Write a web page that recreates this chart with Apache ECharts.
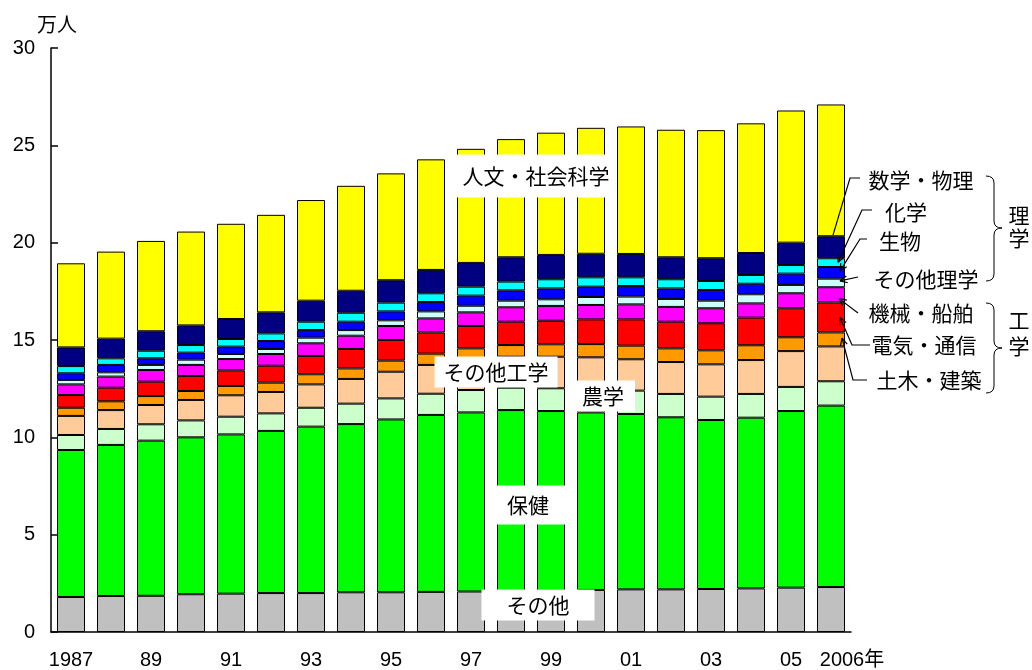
<!DOCTYPE html>
<html><head><meta charset="utf-8">
<script src="https://cdn.jsdelivr.net/npm/echarts@6/dist/echarts.min.js"></script>
<style>html,body{margin:0;padding:0;background:#fff}#c{width:1032px;height:670px}</style>
</head><body><div id="c"></div>
<script>
// ---- data (万人) ----
const years = ['1987','1988','1989','1990','1991','1992','1993','1994','1995','1996','1997','1998','1999','2000','2001','2002','2003','2004','2005','2006'];
const xTickLabels = ['1987','','89','','91','','93','','95','','97','','99','','01','','03','','05','2006年'];
const yTicks = [0, 5, 10, 15, 20, 25, 30];

const sonota      = [1.80,1.85,1.86,1.94,1.97,2.00,2.00,2.04,2.04,2.06,2.08,2.10,2.12,2.16,2.19,2.19,2.21,2.24,2.28,2.31];
const hoken       = [7.55,7.76,7.97,8.06,8.18,8.33,8.55,8.64,8.88,9.09,9.20,9.30,9.23,9.12,9.01,8.84,8.68,8.77,9.07,9.32];
const nogaku      = [0.77,0.82,0.84,0.87,0.91,0.90,0.97,1.05,1.08,1.09,1.15,1.15,1.17,1.22,1.20,1.20,1.20,1.22,1.24,1.25];
const sonotaKogaku= [0.98,0.97,0.99,1.05,1.10,1.10,1.20,1.27,1.37,1.48,1.54,1.59,1.62,1.61,1.61,1.64,1.66,1.74,1.84,1.79];
const dobokuKenchiku = [0.42,0.45,0.46,0.46,0.48,0.48,0.52,0.54,0.57,0.58,0.60,0.60,0.64,0.68,0.70,0.70,0.72,0.76,0.71,0.72];
const denkiTsushin = [0.65,0.70,0.74,0.77,0.80,0.87,0.94,1.00,1.06,1.09,1.15,1.20,1.21,1.27,1.35,1.37,1.39,1.42,1.49,1.54];
const kikaiSenpaku = [0.55,0.57,0.60,0.57,0.58,0.60,0.65,0.68,0.72,0.72,0.70,0.74,0.76,0.74,0.77,0.76,0.77,0.73,0.77,0.78];
const sonotaRigaku = [0.23,0.22,0.26,0.27,0.26,0.26,0.29,0.29,0.29,0.36,0.34,0.34,0.34,0.41,0.40,0.41,0.39,0.47,0.43,0.44];
const seibutsu    = [0.34,0.38,0.34,0.36,0.38,0.41,0.39,0.43,0.46,0.48,0.52,0.53,0.56,0.53,0.54,0.54,0.55,0.54,0.58,0.60];
const kagaku      = [0.37,0.34,0.39,0.39,0.39,0.39,0.43,0.46,0.45,0.45,0.46,0.45,0.47,0.48,0.45,0.47,0.46,0.45,0.44,0.45];
const sugakuButsuri = [0.96,1.01,1.00,1.01,1.03,1.08,1.08,1.13,1.15,1.20,1.22,1.25,1.25,1.21,1.20,1.13,1.17,1.13,1.15,1.13];
const jinbunShakai = [4.32,4.47,4.64,4.82,4.89,5.01,5.17,5.39,5.49,5.68,5.86,6.07,6.28,6.47,6.55,6.55,6.58,6.66,6.79,6.77];

const seriesNames = ['その他','保健','農学','その他工学','土木・建築','電気・通信','機械・船舶','その他理学','生物','化学','数学・物理','人文・社会科学'];
const seriesData = [sonota,hoken,nogaku,sonotaKogaku,dobokuKenchiku,denkiTsushin,kikaiSenpaku,sonotaRigaku,seibutsu,kagaku,sugakuButsuri,jinbunShakai];
const seriesColors = ['#C0C0C0','#00FF00','#CCFFCC','#FFCC99','#FF9900','#FF0000','#FF00FF','#CCFFFF','#0000FF','#00FFFF','#000080','#FFFF00'];

const FONT = "'Liberation Sans', 'Noto Sans CJK JP', sans-serif";
const JFONT = "'Noto Sans CJK JP', sans-serif";

const chart = echarts.init(document.getElementById('c'), null, {renderer:'canvas'});
chart.setOption({
  animation: false,
  backgroundColor: '#fff',
  grid: {left: 51, right: 181, top: 48, bottom: 37, containLabel: false},
  xAxis: {
    type: 'category', data: years,
    axisLine: {show: true, lineStyle: {color: '#000', width: 1.5}},
    axisTick: {show: false},
    axisLabel: {
      interval: 0, margin: 18, color: '#000', fontSize: 20, fontFamily: FONT,
      formatter: (v, i) => i === years.length - 1 ? '{s|' + xTickLabels[i] + '}' : xTickLabels[i],
      rich: {s: {fontSize: 20, fontFamily: FONT, color: '#000', padding: [0, 0, 0, 42]}}
    }
  },
  yAxis: {
    type: 'value', min: yTicks[0], max: yTicks[yTicks.length - 1], interval: 5,
    axisLine: {show: true, lineStyle: {color: '#000', width: 1.5}},
    axisTick: {show: true, inside: true, length: 7, lineStyle: {color: '#000', width: 1.5}},
    splitLine: {show: false},
    axisLabel: {color: '#000', fontSize: 20, fontFamily: FONT, margin: 16}
  },
  series: seriesNames.map((n, k) => ({
    name: n, type: 'bar', stack: 'total', data: seriesData[k], barWidth: 28,
    itemStyle: {color: seriesColors[k], borderColor: '#000', borderWidth: 1}
  }))
});

// ---- annotations ----
const last = years.length - 1;
function cumBelow(s) { let t = 0; for (let k = 0; k < s; k++) t += seriesData[k][last]; return t; }
function tipPoint(s, f, dx) {
  const v = cumBelow(s) + f * seriesData[s][last];
  const p = chart.convertToPixel({gridIndex: 0}, [last, v]);
  return [p[0] + dx, p[1]];
}
const G = [];
const stroke = {stroke: '#000', lineWidth: 1.2, fill: null};
function txt(t, x, y, size, bg, pad) {
  const st = {text: t, fill: '#000', fontSize: size, fontFamily: JFONT, align: 'center', verticalAlign: 'middle'};
  if (bg) { st.backgroundColor = '#fff'; st.padding = pad; }
  G.push({type: 'text', x: x, y: y, z: 100, style: st});
}
function leader(points, arrow) {
  G.push({type: 'polyline', z: 100, shape: {points: points}, style: stroke});
  if (arrow) {
    const a = points[points.length - 2], b = points[points.length - 1];
    const ang = Math.atan2(b[1] - a[1], b[0] - a[0]);
    const L = 8, w = 0.45;
    [ang + Math.PI - w, ang + Math.PI + w].forEach(t => {
      G.push({type: 'line', z: 100, shape: {x1: b[0], y1: b[1], x2: b[0] + L * Math.cos(t), y2: b[1] + L * Math.sin(t)}, style: stroke});
    });
  }
}
function brace(x0, xTip, yTop, yMid, yBot) {
  const xm = (x0 + xTip) / 2, r = 7;
  const segs = [
    {type: 'bezierCurve', shape: {x1: x0, y1: yTop, cpx1: xm, cpy1: yTop, x2: xm, y2: yTop + r}},
    {type: 'line', shape: {x1: xm, y1: yTop + r, x2: xm, y2: yMid - r}},
    {type: 'bezierCurve', shape: {x1: xm, y1: yMid - r, cpx1: xm, cpy1: yMid, x2: xTip, y2: yMid}},
    {type: 'bezierCurve', shape: {x1: xTip, y1: yMid, cpx1: xm, cpy1: yMid, x2: xm, y2: yMid + r}},
    {type: 'line', shape: {x1: xm, y1: yMid + r, x2: xm, y2: yBot - r}},
    {type: 'bezierCurve', shape: {x1: xm, y1: yBot - r, cpx1: xm, cpy1: yBot, x2: x0, y2: yBot}}
  ];
  segs.forEach(s => { s.z = 100; s.style = {stroke: '#000', lineWidth: 1, fill: null}; G.push(s); });
}

// axis unit
txt('万人', 57, 24, 20);
// in-chart labels
txt('人文・社会科学', 536, 176, 21, true, [11, 7]);
txt('その他工学', 496, 372, 21, true, [5, 9]);
txt('農学', 603, 396, 21, true, [5, 11]);
txt('保健', 528, 505, 21, true, [9, 20]);
txt('その他', 538, 605, 21, true, [5, 25]);

// right labels
txt('数学・物理', 921, 180, 21);
txt('化学', 906, 212, 21);
txt('生物', 900, 241, 21);
txt('その他理学', 926, 279, 21);
txt('機械・船舶', 921, 313, 21);
txt('電気・通信', 924, 345, 21);
txt('土木・建築', 929, 380, 21);

leader([[860, 178], [850, 178], tipPoint(10, 1.05, 2)], false);
leader([[872, 210], [862, 210], tipPoint(9, 0.55, 7)], true);
leader([[867, 239], [860, 239], tipPoint(8, 0.65, 9)], true);
leader([[858, 277], tipPoint(7, 0.75, 9)], true);
leader([[858, 313], tipPoint(6, 0.25, 8)], true);
leader([[870, 345], [852, 345], tipPoint(5, 0.5, 9)], true);
leader([[867, 380], [853, 380], tipPoint(4, 0.6, 11)], true);

brace(986, 1002, 176, 228, 281);
brace(986, 1002, 303, 348, 393);
txt('理', 1019, 215, 21);
txt('学', 1019, 238, 21);
txt('工', 1019, 320, 21);
txt('学', 1019, 346, 21);

chart.setOption({graphic: {elements: G}});
</script>
</body></html>
